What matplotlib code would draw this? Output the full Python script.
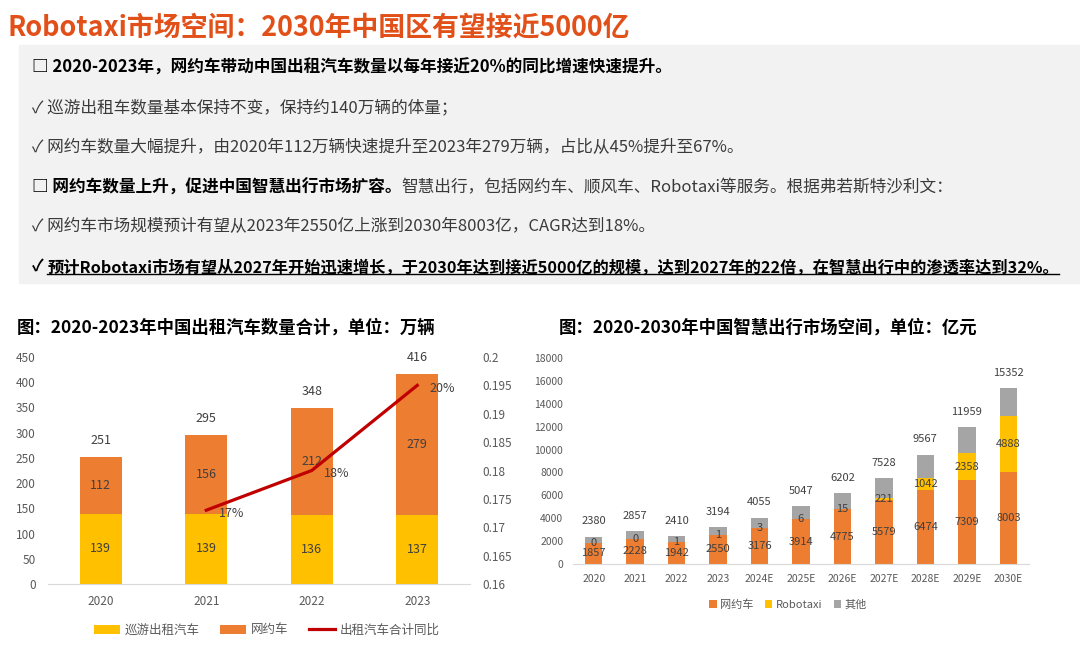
import matplotlib
matplotlib.use('Agg')
import numpy as np
from matplotlib import pyplot as plt
from matplotlib.lines import Line2D
from matplotlib.patches import Rectangle, Patch

plt.rcParams['font.family'] = ['Noto Sans CJK SC', 'DejaVu Sans']

# left chart: taxi counts, unit 万辆
years_l = ['2020', '2021', '2022', '2023']
cruise_taxi = [139, 139, 136, 137]
ride_hailing = [112, 156, 212, 279]
totals_l = [251, 295, 348, 416]
yoy_idx = [1, 2, 3]
yoy = [0.173, 0.180, 0.195]
yoy_labels = ['17%', '18%', '20%']

# right chart: smart mobility market, unit 亿元
years_r = ['2020', '2021', '2022', '2023', '2024E', '2025E', '2026E',
           '2027E', '2028E', '2029E', '2030E']
rh_market = [1857, 2228, 1942, 2550, 3176, 3914, 4775, 5579, 6474, 7309, 8003]
robotaxi = [0, 0, 1, 1, 3, 6, 15, 221, 1042, 2358, 4888]
others = [523, 629, 467, 643, 876, 1127, 1412, 1728, 2051, 2292, 2461]
totals_r = [2380, 2857, 2410, 3194, 4055, 5047, 6202, 7528, 9567, 11959, 15352]

YELLOW = '#FFC000'
ORANGE = '#ED7D31'
GRAY = '#A5A5A5'
RED = '#C00000'
TICK = '#595959'
LBL = '#404040'

W, H = 1080, 664
fig = plt.figure(figsize=(W / 100, H / 100), dpi=100)
renderer = fig.canvas.get_renderer()

# title
fig.text(8 / W, 1 - 27 / H, 'Robotaxi市场空间：2030年中国区有望接近5000亿',
         fontsize=19.4, fontweight='bold', color='#E2501A', va='center')

# grey text box
fig.add_artist(Rectangle((19 / W, 1 - 283 / H), 1 - 19 / W, (283 - 45) / H,
                         transform=fig.transFigure, color='#F2F2F2', zorder=0))


def write_line(x_px, y_px, pieces, size=12):
    # pieces: (text, weight, color, underline)
    x = x_px
    for txt, weight, color, underline in pieces:
        t = fig.text(x / W, 1 - y_px / H, txt, fontsize=size, fontweight=weight,
                     color=color, va='center', ha='left')
        bb = t.get_window_extent(renderer=renderer)
        if underline:
            fig.add_artist(Line2D([bb.x0 / W, bb.x1 / W], [(bb.y0 + 1) / H] * 2,
                                  transform=fig.transFigure, color='black', lw=1))
        x += bb.width


DARK = '#3A3A3A'
write_line(32, 68, [('□ 2020-2023年，网约车带动中国出租汽车数量以每年接近20%的同比增速快速提升。', 'bold', 'black', False)])
write_line(32, 108, [('✓ 巡游出租车数量基本保持不变，保持约140万辆的体量；', 'normal', DARK, False)])
write_line(32, 148, [('✓ 网约车数量大幅提升，由2020年112万辆快速提升至2023年279万辆，占比从45%提升至67%。', 'normal', DARK, False)])
write_line(32, 188, [('□ 网约车数量上升，促进中国智慧出行市场扩容。', 'bold', 'black', False),
                     ('智慧出行，包括网约车、顺风车、Robotaxi等服务。根据弗若斯特沙利文：', 'normal', DARK, False)])
write_line(32, 227, [('✓ 网约车市场规模预计有望从2023年2550亿上涨到2030年8003亿，CAGR达到18%。', 'normal', DARK, False)])
write_line(32, 267, [('✓ ', 'bold', 'black', False),
                     ('预计Robotaxi市场有望从2027年开始迅速增长，于2030年达到接近5000亿的规模，达到2027年的22倍，在智慧出行中的渗透率达到32%。', 'bold', 'black', True)],
           size=11.7)

# chart subtitles
fig.text(17 / W, 1 - 328 / H, '图：2020-2023年中国出租汽车数量合计，单位：万辆',
         fontsize=12.5, fontweight='bold', color='black', va='center')
fig.text(559 / W, 1 - 328 / H, '图：2020-2030年中国智慧出行市场空间，单位：亿元',
         fontsize=12.5, fontweight='bold', color='black', va='center')

# ---------- left chart ----------
ax = fig.add_axes([48 / W, 1 - 584 / H, 422 / W, 227 / H])
pos = np.arange(len(years_l))
ax.bar(pos, cruise_taxi, width=0.4, color=YELLOW, label='巡游出租汽车')
ax.bar(pos, ride_hailing, width=0.4, bottom=cruise_taxi, color=ORANGE, label='网约车')
for i in range(len(pos)):
    ax.text(pos[i], cruise_taxi[i] / 2, str(cruise_taxi[i]), ha='center', va='center',
            fontsize=9, color=LBL)
    ax.text(pos[i], cruise_taxi[i] + ride_hailing[i] / 2, str(ride_hailing[i]),
            ha='center', va='center', fontsize=9, color=LBL)
    ax.annotate(str(totals_l[i]), (pos[i], totals_l[i]), xytext=(0, 12),
                textcoords='offset points', ha='center', va='center', fontsize=9, color=LBL)
ax.set_xlim(-0.5, 3.5)
ax.set_ylim(0, 450)
ax.set_yticks(np.arange(0, 451, 50))
ax.set_xticks(pos, years_l)
ax.tick_params(axis='both', length=0, labelsize=8.5, labelcolor=TICK)
ax.tick_params(axis='y', pad=9)
ax.tick_params(axis='x', pad=8)
for s in ['top', 'left', 'right']:
    ax.spines[s].set_visible(False)
ax.spines['bottom'].set_color('#D9D9D9')

ax2 = ax.twinx()
ax2.plot(yoy_idx, yoy, color=RED, lw=2.3, label='出租汽车合计同比')
for i, v, t in zip(yoy_idx, yoy, yoy_labels):
    ax2.annotate(t, (i, v), xytext=(9, -2), textcoords='offset points',
                 ha='left', va='center', fontsize=9, color=LBL)
ax2.set_ylim(0.16, 0.2)
yt = np.arange(0.16, 0.2001, 0.005)
ax2.set_yticks(yt, ['{:g}'.format(round(v, 3)) for v in yt])
ax2.tick_params(axis='y', length=0, labelsize=8.5, labelcolor=TICK, pad=9)
for s in ax2.spines.values():
    s.set_visible(False)

h1, l1 = ax.get_legend_handles_labels()
h2, l2 = ax2.get_legend_handles_labels()
fig.legend(h1 + h2, l1 + l2, loc='center', bbox_to_anchor=(267 / W, 1 - 630 / H),
           ncol=3, frameon=False, fontsize=9, handlelength=2.1, handletextpad=0.4,
           columnspacing=1.6, labelcolor=TICK)

# ---------- right chart ----------
bx = fig.add_axes([573 / W, 1 - 564 / H, 456 / W, 206 / H])
pr = np.arange(len(years_r))
b1 = np.array(rh_market)
b2 = b1 + np.array(robotaxi)
bx.bar(pr, rh_market, width=0.42, color=ORANGE, label='网约车')
bx.bar(pr, robotaxi, width=0.42, bottom=b1, color=YELLOW, label='Robotaxi')
bx.bar(pr, others, width=0.42, bottom=b2, color=GRAY, label='其他')
for i in range(len(pr)):
    bx.text(pr[i], rh_market[i] / 2, str(rh_market[i]), ha='center', va='center',
            fontsize=8, color=LBL)
    bx.text(pr[i], rh_market[i] + robotaxi[i] / 2, str(robotaxi[i]), ha='center',
            va='center', fontsize=8, color=LBL)
    bx.annotate(str(totals_r[i]), (pr[i], totals_r[i]), xytext=(0, 11),
                textcoords='offset points', ha='center', va='center', fontsize=8, color=LBL)
bx.set_xlim(-0.5, 10.5)
bx.set_ylim(0, 18000)
bx.set_yticks(np.arange(0, 18001, 2000))
bx.set_xticks(pr, years_r)
bx.tick_params(axis='both', length=0, labelsize=7.5, labelcolor=TICK)
bx.tick_params(axis='y', pad=7)
bx.tick_params(axis='x', pad=7)
for s in ['top', 'left', 'right']:
    bx.spines[s].set_visible(False)
bx.spines['bottom'].set_color('#D9D9D9')
bx.legend(loc='center', bbox_to_anchor=(788 / W, 1 - 605 / H),
          bbox_transform=fig.transFigure, ncol=3, frameon=False, fontsize=8,
          handlelength=0.7, handleheight=0.7, handletextpad=0.3, columnspacing=1.0,
          labelcolor=TICK)

fig.savefig('out.png', dpi=100)
